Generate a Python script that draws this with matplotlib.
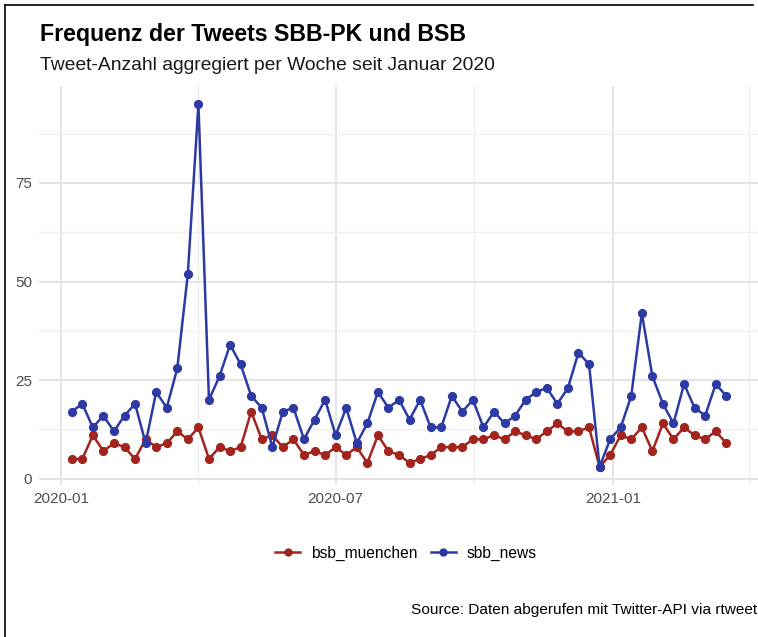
import numpy as np
import pandas as pd
import matplotlib
matplotlib.use("Agg")
import matplotlib.pyplot as plt
import matplotlib.dates as mdates
from matplotlib.lines import Line2D

plt.rcParams['font.family'] = ['Liberation Sans', 'DejaVu Sans']

start_date = "2020-01-08"
n_weeks = 63
dates = pd.date_range(start_date, periods=n_weeks, freq="7D")

bsb_muenchen = [5, 5, 11, 7, 9, 8, 5, 10, 8, 9,
                12, 10, 13, 5, 8, 7, 8, 17, 10, 11,
                8, 10, 6, 7, 6, 8, 6, 8, 4, 11,
                7, 6, 4, 5, 6, 8, 8, 8, 10, 10,
                11, 10, 12, 11, 10, 12, 14, 12, 12, 13,
                3, 6, 11, 10, 13, 7, 14, 10, 13, 11,
                10, 12, 9]
sbb_news = [17, 19, 13, 16, 12, 16, 19, 9, 22, 18,
            28, 52, 95, 20, 26, 34, 29, 21, 18, 8,
            17, 18, 10, 15, 20, 11, 18, 9, 14, 22,
            18, 20, 15, 20, 13, 13, 21, 17, 20, 13,
            17, 14, 16, 20, 22, 23, 19, 23, 32, 29,
            3, 10, 13, 21, 42, 26, 19, 14, 24, 18,
            16, 24, 21]
series_names = ["bsb_muenchen", "sbb_news"]
series_colors = ["#A3231D", "#2E3AA3"]

title = "Frequenz der Tweets SBB-PK und BSB"
subtitle = "Tweet-Anzahl aggregiert per Woche seit Januar 2020"
caption = "Source: Daten abgerufen mit Twitter-API via rtweet"

W, H = 758, 637
fig = plt.figure(figsize=(W / 100, H / 100), dpi=100)
fig.patch.set_facecolor("white")

left, right, top, bottom = 39, 759, 86, 485
ax = fig.add_axes([left / W, 1 - bottom / H, (right - left) / W, (bottom - top) / H])

for name, vals, col in zip(series_names, [bsb_muenchen, sbb_news], series_colors):
    ax.plot(dates, vals, color=col, lw=1.8, marker="o", ms=5.6, label=name, zorder=3)

# limits with 5% expansion like ggplot
span = dates[-1] - dates[0]
ax.set_xlim(dates[0] - span * 0.05, dates[-1] + span * 0.05)
allv = bsb_muenchen + sbb_news
vr = max(allv) - min(allv)
ax.set_ylim(min(allv) - 0.05 * vr, max(allv) + 0.05 * vr)

ax.set_yticks([0, 25, 50, 75])
ax.set_yticks([12.5, 37.5, 62.5, 87.5], minor=True)
major_x = pd.to_datetime(["2020-01-01", "2020-07-01", "2021-01-01"])
minor_x = pd.to_datetime(["2020-04-01", "2020-10-01", "2021-04-01"])
ax.set_xticks(major_x)
ax.set_xticks(minor_x, minor=True)
ax.xaxis.set_major_formatter(mdates.DateFormatter("%Y-%m"))

ax.grid(True, which="major", color="#e4e4e4", lw=1.4)
ax.grid(True, which="minor", color="#eeeeee", lw=0.9)
ax.set_axisbelow(True)
for s in ax.spines.values():
    s.set_visible(False)
ax.tick_params(which="both", length=0)
ax.tick_params(axis="both", labelsize=11, colors="#4d4d4d", pad=5)
for lab in ax.get_xticklabels() + ax.get_yticklabels():
    lab.set_color("#4d4d4d")

fig.text(40 / W, 1 - 35 / H, title, fontsize=16.7, fontweight="bold", va="center", ha="left", color="black")
fig.text(40 / W, 1 - 65 / H, subtitle, fontsize=13.9, va="center", ha="left", color="#1a1a1a")
fig.text(411 / W, 1 - 610 / H, caption, fontsize=11.1, va="center", ha="left", color="black")

handles = [Line2D([0], [0], color=c, lw=1.8, marker="o", ms=5) for c in series_colors]
fig.legend(handles, series_names, loc="center", bbox_to_anchor=(406 / W, 1 - 553 / H), ncol=2,
           frameon=False, fontsize=11.2, handlelength=1.6, columnspacing=0.85, handletextpad=0.7)

# screenshot border (top and left)
fig.add_artist(Line2D([5 / W, 753 / W], [1 - 5 / H, 1 - 5 / H], color="black", lw=1.2))
fig.add_artist(Line2D([5 / W, 5 / W], [1 - 5 / H, 0], color="black", lw=1.2))

fig.savefig("out.png", dpi=100)
